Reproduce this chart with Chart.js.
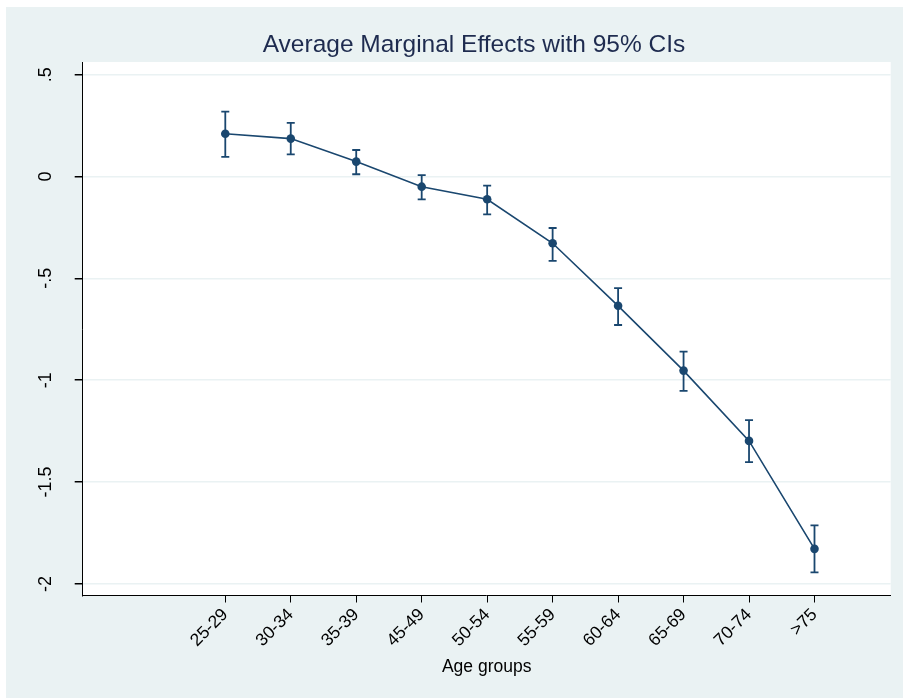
<!DOCTYPE html>
<html>
<head>
<meta charset="utf-8">
<script src="https://cdn.jsdelivr.net/npm/chart.js@4.4.0/dist/chart.umd.min.js"></script>
<style>
  html, body { margin: 0; padding: 0; background: #fff; }
  #wrap { position: absolute; left: 6px; top: 7px; width: 897px; height: 691px; background: #eaf2f3; }
  canvas { display: block; }
</style>
</head>
<body>
<div id="wrap"><canvas id="marginsChart" width="897" height="691"></canvas></div>
<script>
// values
const ageGroups = ["25-29", "30-34", "35-39", "45-49", "50-54", "55-59", "60-64", "65-69", "70-74", ">75"];
const effects = [0.210, 0.186, 0.073, -0.050, -0.112, -0.328, -0.635, -0.953, -1.298, -1.828];
const ciLower = [0.096, 0.109, 0.011, -0.112, -0.186, -0.414, -0.729, -1.052, -1.402, -1.943];
const ciUpper = [0.318, 0.263, 0.130, 0.007, -0.045, -0.253, -0.548, -0.860, -1.196, -1.713];
const yTicks = [-2, -1.5, -1, -0.5, 0, 0.5];
const yTickLabels = ["-2", "-1.5", "-1", "-.5", "0", ".5"];

const navy = "#1a476f";
const FONT = "'Liberation Sans', Arial, sans-serif";
Chart.defaults.font.family = FONT;

// white plot region
const plotBackground = {
  id: "plotBackground",
  beforeDraw(chart) {
    const { ctx, chartArea } = chart;
    ctx.save();
    ctx.fillStyle = "#fff";
    ctx.fillRect(chartArea.left, chartArea.top, chartArea.right - chartArea.left, chartArea.bottom - chartArea.top);
    ctx.restore();
  },
};

// 95% CI whiskers
const errorBars = {
  id: "errorBars",
  beforeDatasetsDraw(chart) {
    const { ctx } = chart;
    const xs = chart.scales.x;
    const ys = chart.scales.y;
    ctx.save();
    ctx.strokeStyle = navy;
    ctx.lineWidth = 1.8;
    for (let i = 0; i < effects.length; i++) {
      const x = xs.getPixelForValue(i + 1);
      const yLo = ys.getPixelForValue(ciLower[i]);
      const yHi = ys.getPixelForValue(ciUpper[i]);
      ctx.beginPath();
      ctx.moveTo(x, yLo);
      ctx.lineTo(x, yHi);
      ctx.moveTo(x - 4, yLo);
      ctx.lineTo(x + 4, yLo);
      ctx.moveTo(x - 4, yHi);
      ctx.lineTo(x + 4, yHi);
      ctx.stroke();
    }
    ctx.restore();
  },
};

// vertical y tick labels, Stata style
const yLabels = {
  id: "yLabels",
  afterDraw(chart) {
    const { ctx, chartArea } = chart;
    const ys = chart.scales.y;
    ctx.save();
    ctx.fillStyle = "#000";
    ctx.font = "18px " + FONT;
    ctx.textAlign = "center";
    ctx.textBaseline = "middle";
    yTicks.forEach((v, i) => {
      ctx.save();
      ctx.translate(chartArea.left - 37, ys.getPixelForValue(v));
      ctx.rotate(-Math.PI / 2);
      ctx.fillText(yTickLabels[i], 0, 0);
      ctx.restore();
    });
    ctx.restore();
  },
};

const ctx = document.getElementById("marginsChart").getContext("2d");
new Chart(ctx, {
  type: "line",
  data: {
    datasets: [
      {
        label: "Effect",
        data: effects.map((v, i) => ({ x: i + 1, y: v })),
        borderColor: navy,
        backgroundColor: navy,
        borderWidth: 1.6,
        pointRadius: 4.3,
        pointBorderWidth: 0,
        pointBackgroundColor: navy,
        tension: 0,
        fill: false,
      },
    ],
  },
  options: {
    responsive: false,
    animation: false,
    layout: { padding: { left: 51.3, right: 12.3, top: 0, bottom: 0 } },
    scales: {
      x: {
        type: "linear",
        min: -1.178,
        max: 11.164,
        afterBuildTicks: (s) => { s.ticks = ageGroups.map((g, i) => ({ value: i + 1 })); },
        afterFit: (s) => { s.height = 102.5; s.paddingLeft = 0; s.paddingRight = 0; },
        ticks: {
          minRotation: 45,
          maxRotation: 45,
          autoSkip: false,
          color: "#000",
          padding: 2,
          font: { size: 17.5 },
          callback: (v, i) => ageGroups[i],
        },
        grid: { drawOnChartArea: false, tickColor: "#000", tickLength: 7 },
        border: { color: "#000", width: 1 },
        title: {
          display: true,
          text: "Age groups",
          color: "#000",
          font: { size: 17.5 },
          padding: { top: 0, bottom: 20.5 },
        },
      },
      y: {
        type: "linear",
        min: -2.057,
        max: 0.562,
        afterBuildTicks: (s) => { s.ticks = yTicks.map((v) => ({ value: v })); },
        afterFit: (s) => { s.width = 25.4; s.paddingTop = 0; s.paddingBottom = 0; },
        ticks: { display: false },
        grid: { color: "#eaf2f3", lineWidth: 1.5, tickColor: "#000", tickLength: 8 },
        border: { color: "#000", width: 1 },
      },
    },
    plugins: {
      legend: { display: false },
      tooltip: { enabled: false },
      title: {
        display: true,
        text: "Average Marginal Effects with 95% CIs",
        color: "#1e2b4f",
        font: { size: 24.5, weight: "normal" },
        padding: { top: 23.8, bottom: 1.8 },
      },
    },
  },
  plugins: [plotBackground, errorBars, yLabels],
});
</script>
</body>
</html>
